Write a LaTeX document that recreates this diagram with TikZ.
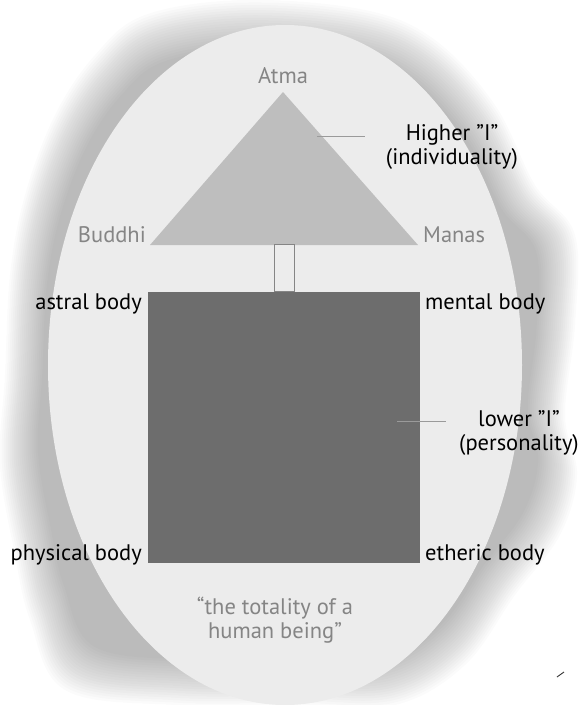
\documentclass[tikz,border=0pt]{standalone}
\usepackage{fontspec}
\setmainfont{PT Sans}
\usetikzlibrary{positioning}

\definecolor{egg}{HTML}{ECECEC}
\definecolor{higher}{HTML}{BEBEBE}
\definecolor{lower}{HTML}{6D6D6D}
\definecolor{soft}{HTML}{858585}
\definecolor{linegray}{HTML}{9A9A9A}
\tikzstyle{txt} = [font=\fontsize{22.5}{24}\selectfont, inner sep=0pt]
\tikzstyle{principle} = [txt, text=soft]
\tikzstyle{caption} = [txt, align=center]
\tikzstyle{leader} = [draw=linegray, line width=0.8pt]

\begin{document}
\begin{tikzpicture}[x=1pt,y=-1pt]
	\useasboundingbox (0,0) rectangle (579,705);
	% blurred shadow behind the egg
	\foreach \s in {1.00,0.993,...,0.86}{
		\begin{scope}[shift={(285,365)}, scale=\s]
			\fill[black, opacity=0.014] plot[smooth cycle, tension=0.6] coordinates {
				(10,340) (-110,340) (-220,325) (-255,255) (-270,190) (-285,100)
				(-280,10) (-275,-90) (-260,-170) (-230,-250) (-190,-310) (-140,-350)
				(-40,-365) (80,-355) (150,-325) (210,-260) (250,-180) (290,-130)
				(290,-40) (280,50) (292,110) (275,170) (230,230) (180,300) (110,340)};
		\end{scope}
	}
	\fill[egg] (285,365) ellipse [x radius=237, y radius=340];
	% higher I
	\coordinate (atma) at (283,92);
	\coordinate (buddhi) at (150,245);
	\coordinate (manas) at (418,245);
	\fill[higher] (atma) -- (manas) -- (buddhi) -- cycle;
	% lower I
	\node[fill=lower, minimum width=272, minimum height=271, inner sep=0pt] (square) at (284,427.5) {};
	\node[draw=soft, fill=egg, line width=0.8pt, minimum width=20, minimum height=47, inner sep=0pt, anchor=south] (column) at (square.north) {};
	% labels of the triangle
	\node[principle, anchor=south] (atmalbl) at (283,84) {Atma};
	\node[principle, anchor=base east] (buddhilbl) at (146,242) {Buddhi};
	\node[principle, anchor=base west] (manaslbl) at (423,242) {Manas};
	% labels of the square
	\node[txt, anchor=base east] (astral) at (142,309) {astral body};
	\node[txt, anchor=base west] (mental) at (425,309) {mental body};
	\node[txt, anchor=base east] (physical) at (142,560) {physical body};
	\node[txt, anchor=base west] (etheric) at (425,560) {etheric body};
	% the two I's
	\node[caption] (higherI) at (452,147) {Higher ”I”\\(individuality)};
	\coordinate (higherin) at (317,136);
	\coordinate (higherout) at (365,136);
	\draw[leader] (higherin) -- (higherout);
	\node[caption] (lowerI) at (519,433) {lower ”I”\\(personality)};
	\coordinate (lowerin) at (397,421);
	\coordinate (lowerout) at (446,421);
	\draw[leader] (lowerin) -- (lowerout);
	% whole being
	\node[caption, text=soft] (totality) at (275,620) {“the totality of a\\human being”};
	% stray mark
	\coordinate (markA) at (557,677);
	\coordinate (markB) at (564,672);
	\draw[black!80, line width=0.9pt] (markA) -- (markB);
\end{tikzpicture}
\end{document}
